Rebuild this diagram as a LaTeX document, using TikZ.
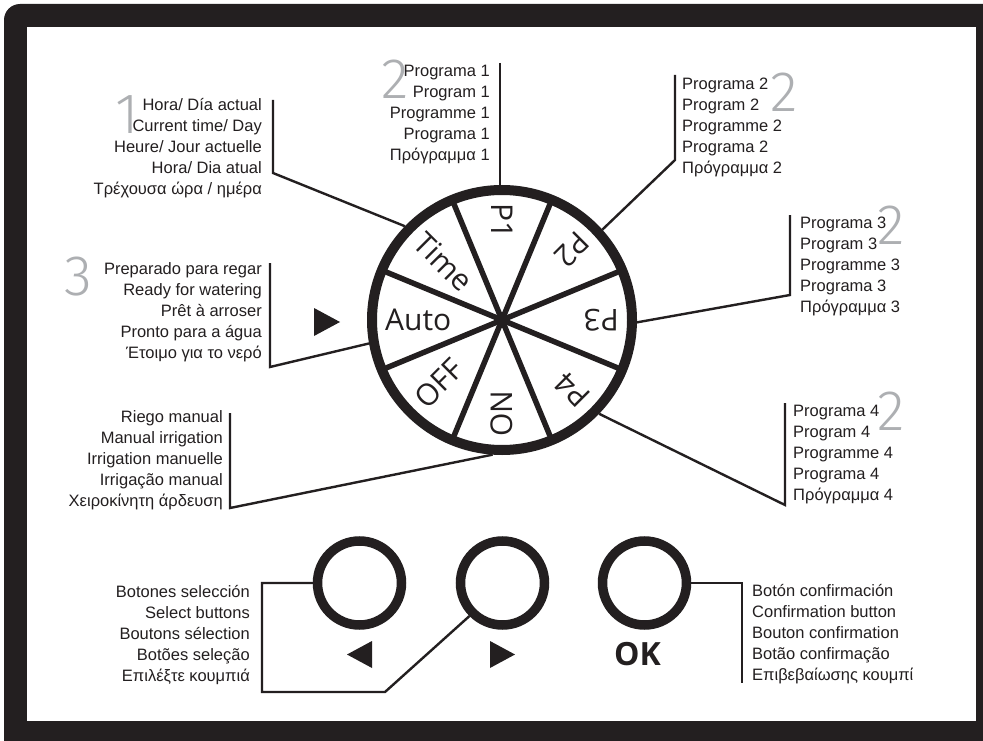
\documentclass[tikz,border=0pt]{standalone}
\usepackage{fontspec}
\setmainfont{Liberation Sans}
\newfontfamily\dialfont{Open Sans}
\newfontfamily\digitfont{Fira Sans Light}
\usetikzlibrary{calc}
\definecolor{ink}{HTML}{231F20}
\definecolor{grey}{HTML}{ADAFB2}
\begin{document}
\begin{tikzpicture}[x=1pt,y=-1pt,
  lbl/.style={font=\fontsize{16.5}{21}\selectfont,text=ink,inner sep=0pt},
  lblR/.style={lbl,align=right,anchor=north east},
  lblL/.style={lbl,align=left,anchor=north west},
  con/.style={draw=ink,line width=2.4pt,line join=miter},
  bigdigit/.style={font=\digitfont\fontsize{57}{57}\selectfont,text=grey,inner sep=0pt},
  dialtxt/.style={font=\dialfont\fontsize{30}{30}\selectfont,text=ink,inner sep=0pt,anchor=west},
  btn/.style={circle,draw=ink,line width=9.5pt,minimum size=84pt,inner sep=0pt}]
\useasboundingbox (0,0) rectangle (983,741);
\clip (0,0) rectangle (983,741);
\fill[ink,rounded corners=16pt] (4,4) rectangle (1010,770);
\fill[white] (27,27) rectangle (976,721);

% big grey step numbers
\node[bigdigit] (d1) at (127,115) {1};
\node[bigdigit] (d2a) at (395,79) {2};
\node[bigdigit] (d2b) at (784,92) {2};
\node[bigdigit] (d2c) at (891,225) {2};
\node[bigdigit] (d2d) at (891,411) {2};
\node[bigdigit] (d3) at (78,277) {3};

% dial
\node[circle,draw=ink,line width=10pt,minimum size=260pt,inner sep=0pt] (dial) at (502,320) {};
\foreach \a in {22.5,67.5,...,337.5}
  \draw[ink,line width=5.5pt] (dial.center) -- ($(dial.center)+({126*cos(\a)},{-126*sin(\a)})$);
\foreach \a/\t/\n in {90/P1/tP1,45/P2/tP2,0/P3/tP3,-45/P4/tP4,-90/ON/tON,-135/OFF/tOFF,180/Auto/tAuto,135/Time/tTime}{
  \pgfmathsetmacro\rr{\a+180}
  \node[dialtxt,rotate=\rr] (\n) at ($(dial.center)+({117*cos(\a)},{-117*sin(\a)})$) {\t};
}

% text blocks
\node[lblR] (b1) at (262,96) {\strut Hora/ Día actual\\Current time/ Day\\Heure/ Jour actuelle\\Hora/ Dia atual\\Τρέχουσα ώρα / ημέρα};
\node[lblR] (b2) at (490,62) {\strut Programa 1\\Program 1\\Programme 1\\Programa 1\\Πρόγραμμα 1};
\node[lblL] (b3) at (682,75) {\strut Programa 2\\Program 2\\Programme 2\\Programa 2\\Πρόγραμμα 2};
\node[lblL] (b4) at (800,214) {\strut Programa 3\\Program 3\\Programme 3\\Programa 3\\Πρόγραμμα 3};
\node[lblL] (b5) at (793,402) {\strut Programa 4\\Program 4\\Programme 4\\Programa 4\\Πρόγραμμα 4};
\node[lblR] (b6) at (262,260) {\strut Preparado para regar\\Ready for watering\\Prêt à arroser\\Pronto para a água\\Έτοιμο για το νερό};
\node[lblR] (b7) at (223,408) {\strut Riego manual\\Manual irrigation\\Irrigation manuelle\\Irrigação manual\\Χειροκίνητη άρδευση};
\node[lblR] (b8) at (250,583) {\strut Botones selección\\Select buttons\\Boutons sélection\\Botões seleção\\Επιλέξτε κουμπιά};
\node[lblL] (b9) at (752,582) {\strut Botón confirmación\\Confirmation button\\Bouton confirmation\\Botão confirmação\\Επιβεβαίωσης κουμπί};

% connectors to dial
\coordinate (c1t) at (273,100); \coordinate (c1b) at (273,173);
\draw[con] (c1t) -- (c1b) -- (dial.136);
\coordinate (c2t) at (500,63);
\draw[con] (c2t) -- (c2t |- dial.north);
\coordinate (c3t) at (675,75); \coordinate (c3b) at (675,160);
\draw[con] (c3t) -- (c3b) -- (dial.42);
\coordinate (c4t) at (790,215); \coordinate (c4b) at (790,295);
\draw[con] (c4t) -- (c4b) -- (dial.359);
\coordinate (c5t) at (785,403); \coordinate (c5b) at (785,505);
\draw[con] (c5t) -- (c5b) -- (dial.316);
\coordinate (c6t) at (270,263); \coordinate (c6b) at (270,367);
\draw[con] (c6t) -- (c6b) -- (dial.190);
\coordinate (c7t) at (230,413); \coordinate (c7b) at (230,508);
\draw[con] (c7t) -- (c7b) -- (dial.266);

% arrow mark next to Auto
\fill[ink] (314,308) -- (340,322) -- (314,336) -- cycle;

% buttons
\node[btn] (bL) at (359.5,583) {};
\node[btn] (bR) at (502.5,583) {};
\node[btn] (bOK) at (644.5,583) {};
\fill[ink] (372,641) -- (347,654.5) -- (372,668) -- cycle;
\fill[ink] (490,641) -- (515,654.5) -- (490,668) -- cycle;
\node[font=\dialfont\bfseries\fontsize{32}{32}\selectfont,text=ink,inner sep=0pt] (ok) at (637.5,654.5) {OK};

\coordinate (s1) at (262,583); \coordinate (s2) at (262,692); \coordinate (s3) at (385,692);
\draw[con] (bL.west) -- (s1) -- (s2) -- (s3) -- (bR.225);
\coordinate (k1) at (742,583); \coordinate (k2) at (742,683);
\draw[con] (bOK.east) -- (k1) -- (k2);
\end{tikzpicture}
\end{document}
